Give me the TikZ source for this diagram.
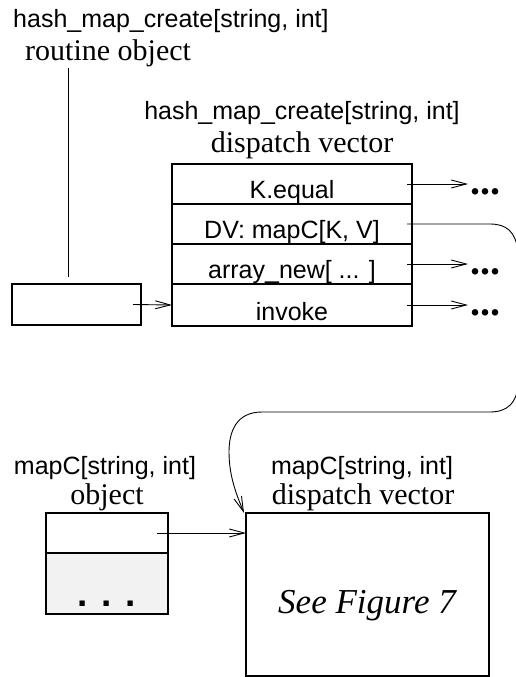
\documentclass[tikz,border=0pt]{standalone}
\usepackage{fontspec}
\setmainfont{Liberation Serif}
\setsansfont{Liberation Sans}
\usetikzlibrary{arrows.meta}
\definecolor{fillgray}{RGB}{242,242,242}
\tikzset{
  box/.style={draw, line width=1.1pt, inner sep=0pt, outer sep=0pt},
  sanslbl/.style={font=\sffamily\fontsize{25}{30}\selectfont, inner sep=0pt, anchor=base},
  seriflbl/.style={font=\rmfamily\fontsize{30}{36}\selectfont, inner sep=0pt, anchor=base},
  seelbl/.style={font=\rmfamily\itshape\fontsize{35}{40}\selectfont, inner sep=0pt, anchor=base},
  dotslbl/.style={font=\rmfamily\bfseries\fontsize{40}{44}\selectfont, inner sep=0pt, anchor=west},
  sqdots/.style={font=\sffamily\bfseries\fontsize{37}{40}\selectfont, inner sep=0pt, anchor=base},
  conn/.style={line width=0.9pt, -{Straight Barb[length=15pt,width=8pt]}},
  plainline/.style={line width=0.9pt},
}
\begin{document}
\begin{tikzpicture}[x=1pt,y=-1pt]
\useasboundingbox (0,0) rectangle (516,677);
\clip (0,0) rectangle (516,677);

% top-left labels
\node[sanslbl, anchor=base west] (t1) at (13,28) {hash\_map\_create[string, int]};
\node[seriflbl, anchor=base west] (t2) at (25,61) {routine object};

% routine object box
\node[box, minimum width=129pt, minimum height=41pt] (rbox) at (76.5,304.5) {};
\coordinate (rtop) at (68,68);
\draw[plainline] (rtop) -- ([xshift=56pt,yshift=7pt]rbox.north west);

% dispatch vector labels
\node[sanslbl] (t3) at (302,119) {hash\_map\_create[string, int]};
\node[seriflbl] (t4) at (302,152) {dispatch vector};

% dispatch vector rows
\node[box, minimum width=240pt, minimum height=40pt] (r1) at (292,184) {};
\node[box, minimum width=240pt, minimum height=40pt] (r2) at (292,224) {};
\node[box, minimum width=240pt, minimum height=40pt] (r3) at (292,264) {};
\node[box, minimum width=240pt, minimum height=42pt] (r4) at (292,305) {};
\node[sanslbl] (l1) at ([yshift=6pt]r1.south) {K.equal};
\node[sanslbl] (l2) at ([yshift=6pt]r2.south) {DV: mapC[K, V]};
\node[sanslbl] (l3) at ([yshift=6pt]r3.south) {array\_new[ ... ]};
\node[sanslbl] (l4) at ([yshift=6pt]r4.south) {invoke};

% dots
\node[dotslbl] (d1) at (470,192) {...};
\node[dotslbl] (d3) at (470,272) {...};
\node[dotslbl] (d4) at (470,313) {...};
\draw[conn] ([xshift=-5pt]r1.east) -- ([xshift=-2pt]d1.west |- r1.east);
\draw[conn] ([xshift=-5pt]r3.east) -- ([xshift=-2pt]d3.west |- r3.east);
\draw[conn] ([xshift=-5pt]r4.east) -- ([xshift=-2pt]d4.west |- r4.east);

% routine box to invoke
\draw[conn] ([xshift=-8pt]rbox.east) -- (r4.west);

% bottom left object
\node[sanslbl] (t5) at (105,474) {mapC[string, int]};
\node[seriflbl] (t6) at (107,504) {object};
\node[box, minimum width=122pt, minimum height=40pt] (o1) at (107,533) {};
\node[box, fill=fillgray, minimum width=122pt, minimum height=61pt] (o2) at (107,583.5) {};
\node[sqdots] (o2dots) at (107,606) {. . .};

% bottom right dispatch vector
\node[sanslbl] (t7) at (362,474) {mapC[string, int]};
\node[seriflbl] (t8) at (363,504) {dispatch vector};
\node[box, minimum width=243pt, minimum height=163pt] (big) at (367.5,594.5) {};
\node[seelbl] (see) at (367,613) {See Figure 7};

% object to dispatch vector
\draw[conn] ([xshift=-11pt]o1.east) -- (big.west |- o1.east);

% DV curve
\draw[conn] ([xshift=-5pt]r2.east) -- (490,224)
  .. controls (507,224) and (515,232) .. (518,250)
  -- (518,385)
  .. controls (517,402) and (508,412) .. (490,412)
  -- (262,412)
  .. controls (236,412) and (229,432) .. (229,452)
  .. controls (229,478) and (238,498) .. ([xshift=-2pt]big.north west);
\end{tikzpicture}
\end{document}
